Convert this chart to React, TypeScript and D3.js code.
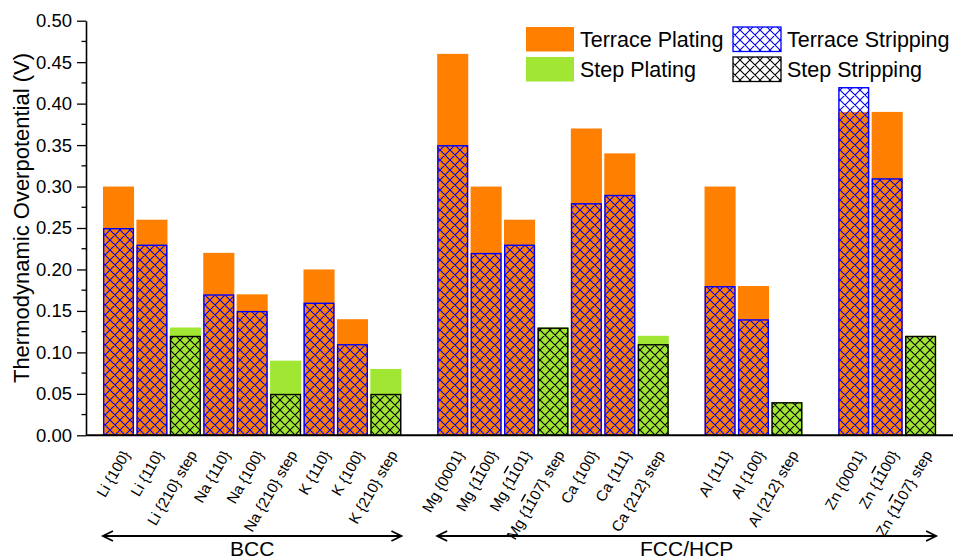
import * as d3 from "d3";
import { useEffect, useRef } from "react";

// chart size and frame
const width = 953;
const height = 560;
const axisLeftX = 86;

// "-1" in a label means a 1 with a bar over it
const categories = [
  "Li {100}", "Li {110}", "Li {210} step",
  "Na {110}", "Na {100}", "Na {210} step",
  "K {110}", "K {100}", "K {210} step",
  "Mg {0001}", "Mg {1-100}", "Mg {1-101}", "Mg {1-107} step",
  "Ca {100}", "Ca {111}", "Ca {212} step",
  "Al {111}", "Al {100}", "Al {212} step",
  "Zn {0001}", "Zn {1-100}", "Zn {1-107} step",
];
const plating = [
  0.30, 0.26, 0.13,
  0.22, 0.17, 0.09,
  0.20, 0.14, 0.08,
  0.46, 0.30, 0.26, 0.13,
  0.37, 0.34, 0.12,
  0.30, 0.18, 0.04,
  0.39, 0.39, 0.12,
];
const stripping = [
  0.25, 0.23, 0.12,
  0.17, 0.15, 0.05,
  0.16, 0.11, 0.05,
  0.35, 0.22, 0.23, 0.13,
  0.28, 0.29, 0.11,
  0.18, 0.14, 0.04,
  0.42, 0.31, 0.12,
];
// an empty slot sits before each of these
const gapBefore = ["Mg {0001}", "Al {111}", "Zn {0001}"];

const structureNames = ["BCC", "FCC/HCP"];
const structureFirst = ["Li {100}", "Mg {0001}"];
const structureLast = ["K {210} step", "Zn {1-107} step"];

const legendLabels = ["Terrace Plating", "Terrace Stripping", "Step Plating", "Step Stripping"];

const orange = "#ff8000";
const green = "#a0e632";
const blue = "#0000ff";
const font = "Arial, 'Liberation Sans', sans-serif";

const App = () => {
  const containerRef = useRef<HTMLDivElement>(null);

  useEffect(() => {
    const container = containerRef.current;
    if (!container) return;
    container.innerHTML = "";

    const slots: string[] = [];
    categories.forEach((c, i) => {
      if (gapBefore.includes(c)) slots.push("gap" + i);
      slots.push(c);
    });

    const x = d3
      .scaleBand()
      .domain(slots)
      .range([101.8, 937.3])
      .paddingInner(0.07)
      .paddingOuter(0.035);

    const y = d3.scaleLinear().domain([0, 0.5]).range([435.3, 20.7]);

    const svg = d3
      .create("svg")
      .attr("width", width)
      .attr("height", height)
      .style("position", "absolute")
      .style("left", 0)
      .style("top", 0)
      .style("font-family", font);

    // crosshatch patterns
    const defs = svg.append("defs");
    [["hatchBlue", blue], ["hatchBlack", "#000"]].forEach(([id, col]) => {
      defs
        .append("pattern")
        .attr("id", id)
        .attr("patternUnits", "userSpaceOnUse")
        .attr("width", 10)
        .attr("height", 10)
        .append("path")
        .attr("d", "M0,0L10,10M10,0L0,10M-1,1L1,-1M9,11L11,9M-1,9L1,11M9,-1L11,1")
        .attr("stroke", col)
        .attr("stroke-width", 1.1)
        .attr("fill", "none");
    });

    const isStep = (c: string) => c.includes("step");

    // plating bars (solid)
    svg
      .append("g")
      .selectAll("rect")
      .data(categories)
      .join("rect")
      .attr("x", (c) => x(c)!)
      .attr("width", x.bandwidth())
      .attr("y", (c, i) => y(plating[i]))
      .attr("height", (c, i) => y(0) - y(plating[i]))
      .attr("fill", (c) => (isStep(c) ? green : orange));

    // stripping bars (hatched, drawn on top)
    svg
      .append("g")
      .selectAll("rect")
      .data(categories)
      .join("rect")
      .attr("x", (c) => x(c)! + 0.7)
      .attr("width", x.bandwidth() - 1.4)
      .attr("y", (c, i) => y(stripping[i]) + 0.7)
      .attr("height", (c, i) => y(0) - y(stripping[i]) - 0.7)
      .attr("fill", (c) => (isStep(c) ? "url(#hatchBlack)" : "url(#hatchBlue)"))
      .attr("stroke", (c) => (isStep(c) ? "#000" : blue))
      .attr("stroke-width", 1.4);

    // y axis, major and minor ticks
    const major = d3.range(0, 0.5001, 0.05);
    const minor = d3.range(0.025, 0.5, 0.05);
    const yAxis = svg
      .append("g")
      .attr("transform", `translate(${axisLeftX},0)`)
      .call(
        d3
          .axisLeft(y)
          .tickValues(major)
          .tickSize(9)
          .tickSizeOuter(0)
          .tickPadding(5)
          .tickFormat(d3.format(".2f") as any)
      );
    yAxis.select(".domain").attr("stroke-width", 1.6);
    yAxis.selectAll(".tick line").attr("stroke-width", 1.3);
    yAxis
      .selectAll(".tick text")
      .attr("font-size", 18.5)
      .attr("font-family", font)
      .attr("fill", "#000");

    svg
      .append("g")
      .attr("transform", `translate(${axisLeftX},0)`)
      .selectAll("line")
      .data(minor)
      .join("line")
      .attr("x1", -4.5)
      .attr("x2", 0)
      .attr("y1", (d) => y(d))
      .attr("y2", (d) => y(d))
      .attr("stroke", "#000")
      .attr("stroke-width", 1.3);

    // x axis line
    svg
      .append("line")
      .attr("x1", axisLeftX)
      .attr("x2", width)
      .attr("y1", y(0))
      .attr("y2", y(0))
      .attr("stroke", "#000")
      .attr("stroke-width", 2);

    // y title
    svg
      .append("text")
      .attr("transform", `translate(29,${(y(0) + y(0.5)) / 2 - 10}) rotate(-90)`)
      .attr("text-anchor", "middle")
      .attr("font-size", 22)
      .text("Thermodynamic Overpotential (V)");

    // category labels
    const labels = svg
      .append("g")
      .selectAll("text")
      .data(categories)
      .join("text")
      .attr("text-anchor", "end")
      .attr("font-size", 15)
      .attr(
        "transform",
        (c) => `translate(${x(c)! + x.bandwidth() / 2 + 12},${y(0) + 19}) rotate(-60)`
      );
    labels.each(function (c) {
      const t = d3.select(this);
      c.split(/(-1)/).forEach((part) => {
        if (part === "-1") t.append("tspan").style("text-decoration", "overline").text("1");
        else if (part) t.append("tspan").text(part);
      });
    });

    // structure arrows
    structureNames.forEach((name, i) => {
      const x1 = x(structureFirst[i])!;
      const x2 = x(structureLast[i])! + x.bandwidth();
      const ay = 536;
      const g = svg.append("g").attr("stroke", "#000").attr("stroke-width", 1.8).attr("fill", "none");
      g.append("line").attr("x1", x1).attr("x2", x2).attr("y1", ay).attr("y2", ay);
      g.append("path").attr("d", `M${x1 + 10},${ay - 5}L${x1},${ay}L${x1 + 10},${ay + 5}`);
      g.append("path").attr("d", `M${x2 - 10},${ay - 5}L${x2},${ay}L${x2 - 10},${ay + 5}`);
      svg
        .append("text")
        .attr("x", (x1 + x2) / 2)
        .attr("y", 556)
        .attr("text-anchor", "middle")
        .attr("font-size", 21)
        .text(name);
    });

    // legend
    const legendX = [526, 733];
    const legendY = [27, 57];
    const swatchFill = [orange, "url(#hatchBlue)", green, "url(#hatchBlack)"];
    const swatchStroke = ["none", blue, "none", "#000"];
    legendLabels.forEach((label, i) => {
      const lx = legendX[i % 2];
      const ly = legendY[Math.floor(i / 2)];
      svg
        .append("rect")
        .attr("x", lx)
        .attr("y", ly)
        .attr("width", 48)
        .attr("height", 24.5)
        .attr("fill", swatchFill[i])
        .attr("stroke", swatchStroke[i])
        .attr("stroke-width", 1.3);
      svg
        .append("text")
        .attr("x", lx + 54)
        .attr("y", ly + 20)
        .attr("font-size", 21.5)
        .text(label);
    });

    container.append(svg.node()!);
  }, []);

  return <div ref={containerRef}></div>;
};

export default App;
